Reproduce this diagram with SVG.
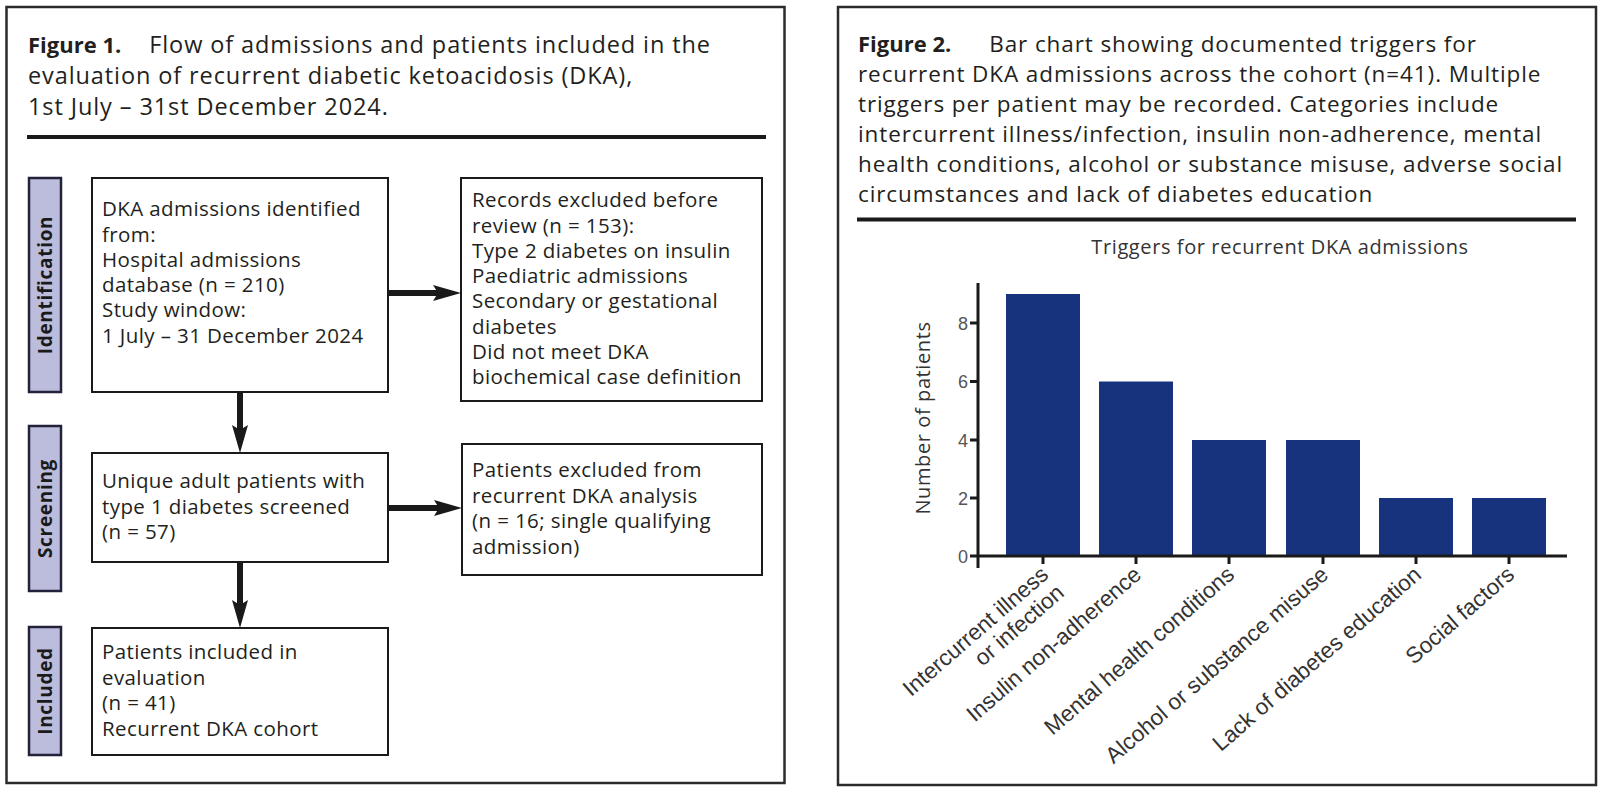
<svg xmlns="http://www.w3.org/2000/svg" width="1600" height="792" viewBox="0 0 1600 792">
<defs>
<style>
.panel{fill:#fff;stroke:#2b2b2b;stroke-width:2.5}
.rule{stroke:#1a1a1a;stroke-width:4}
.cap{font-family:"Open Sans","Liberation Sans",sans-serif;font-size:23.5px;letter-spacing:0.9px;fill:#231f20}
.cap2{font-family:"Open Sans","Liberation Sans",sans-serif;font-size:22.5px;letter-spacing:0.9px;fill:#231f20}
.capb{font-weight:bold;font-size:22px;letter-spacing:0}
.box{fill:#fff;stroke:#1a1a1a;stroke-width:2}
.bt{font-family:"Open Sans","Liberation Sans",sans-serif;font-size:20.5px;letter-spacing:0.4px;fill:#231f20}
.side{fill:#bcbcdc;stroke:#22223a;stroke-width:2.5}
.st{font-family:"Open Sans","Liberation Sans",sans-serif;font-size:19px;font-weight:bold;fill:#1a1a1a;letter-spacing:0.7px}
.conn{stroke:#1a1a1a;stroke-width:6;fill:none}
.bar{fill:#17337d}
.axis{stroke:#1a1a1a;stroke-width:3;fill:none}
.tick{font-family:"Liberation Sans",Arial,sans-serif;font-size:18px;fill:#555}
.xl{font-family:"Liberation Sans",Arial,sans-serif;font-size:22.5px;fill:#333}
.ttl{font-family:"Open Sans","Liberation Sans",sans-serif;font-size:20px;fill:#333;letter-spacing:0.6px}
</style>
<marker id="ah" markerUnits="userSpaceOnUse" markerWidth="30" markerHeight="18" refX="5" refY="8" orient="auto" viewBox="0 0 30 18">
<path d="M0,0 L28,8 L0,16 L5,8 z" fill="#1a1a1a"/>
</marker>
</defs>
<rect width="1600" height="792" fill="#fff"/>

<!-- Left panel: Figure 1 -->
<rect class="panel" x="6.5" y="7" width="778" height="776"/>
<text class="cap" x="28" y="53"><tspan class="capb">Figure 1.</tspan><tspan dx="28">Flow of admissions and patients included in the</tspan></text>
<text class="cap" x="28" y="84">evaluation of recurrent diabetic ketoacidosis (DKA),</text>
<text class="cap" x="28" y="114.5">1st July – 31st December 2024.</text>
<line class="rule" x1="27" y1="137" x2="766" y2="137"/>

<g id="stage-identification">
<rect class="side" x="29" y="178" width="32" height="214"/>
<text class="st" transform="translate(45,285) rotate(-90)" text-anchor="middle" dominant-baseline="central">Identification</text>
</g>
<g id="stage-screening">
<rect class="side" x="29" y="426" width="32" height="165"/>
<text class="st" transform="translate(45,508.5) rotate(-90)" text-anchor="middle" dominant-baseline="central">Screening</text>
</g>
<g id="stage-included">
<rect class="side" x="29" y="627" width="32" height="128"/>
<text class="st" transform="translate(45,691) rotate(-90)" text-anchor="middle" dominant-baseline="central">Included</text>
</g>

<g id="node-identified">
<rect class="box" x="92" y="178" width="296" height="214"/>
<text class="bt" x="102" y="216">DKA admissions identified</text>
<text class="bt" x="102" y="241.5">from:</text>
<text class="bt" x="102" y="266.5">Hospital admissions</text>
<text class="bt" x="102" y="292">database (n = 210)</text>
<text class="bt" x="102" y="317">Study window:</text>
<text class="bt" x="102" y="342.5">1 July – 31 December 2024</text>
</g>
<g id="node-excluded-records">
<rect class="box" x="461" y="178" width="301" height="223"/>
<text class="bt" x="472" y="207">Records excluded before</text>
<text class="bt" x="472" y="232.5">review (n = 153):</text>
<text class="bt" x="472" y="257.5">Type 2 diabetes on insulin</text>
<text class="bt" x="472" y="283">Paediatric admissions</text>
<text class="bt" x="472" y="308">Secondary or gestational</text>
<text class="bt" x="472" y="333.5">diabetes</text>
<text class="bt" x="472" y="358.5">Did not meet DKA</text>
<text class="bt" x="472" y="384">biochemical case definition</text>
</g>
<g id="node-screened">
<rect class="box" x="92" y="453" width="296" height="109"/>
<text class="bt" x="102" y="488">Unique adult patients with</text>
<text class="bt" x="102" y="513.5">type 1 diabetes screened</text>
<text class="bt" x="102" y="539">(n = 57)</text>
</g>
<g id="node-excluded-patients">
<rect class="box" x="462" y="444" width="300" height="131"/>
<text class="bt" x="472" y="477">Patients excluded from</text>
<text class="bt" x="472" y="502.5">recurrent DKA analysis</text>
<text class="bt" x="472" y="528">(n = 16; single qualifying</text>
<text class="bt" x="472" y="553.5">admission)</text>
</g>
<g id="node-included">
<rect class="box" x="92" y="628" width="296" height="127"/>
<text class="bt" x="102" y="659">Patients included in</text>
<text class="bt" x="102" y="684.5">evaluation</text>
<text class="bt" x="102" y="710">(n = 41)</text>
<text class="bt" x="102" y="735.5">Recurrent DKA cohort</text>
</g>

<g id="connectors">
<line class="conn" x1="388" y1="293" x2="438" y2="293" marker-end="url(#ah)"/>
<line class="conn" x1="240" y1="392" x2="240" y2="430" marker-end="url(#ah)"/>
<line class="conn" x1="388" y1="508" x2="439" y2="508" marker-end="url(#ah)"/>
<line class="conn" x1="240" y1="562" x2="240" y2="605" marker-end="url(#ah)"/>
</g>

<!-- Right panel: Figure 2 -->
<rect class="panel" x="838" y="7" width="758" height="778"/>
<text class="cap2" x="858" y="52"><tspan class="capb">Figure 2.</tspan><tspan dx="38">Bar chart showing documented triggers for</tspan></text>
<text class="cap2" x="858" y="82">recurrent DKA admissions across the cohort (n=41). Multiple</text>
<text class="cap2" x="858" y="112">triggers per patient may be recorded. Categories include</text>
<text class="cap2" x="858" y="142">intercurrent illness/infection, insulin non-adherence, mental</text>
<text class="cap2" x="858" y="171.5">health conditions, alcohol or substance misuse, adverse social</text>
<text class="cap2" x="858" y="201.5">circumstances and lack of diabetes education</text>
<line class="rule" x1="857" y1="219.5" x2="1576" y2="219.5"/>

<g id="chart">
<text class="ttl" x="1280" y="254" text-anchor="middle">Triggers for recurrent DKA admissions</text>
<text class="ttl" transform="translate(922,418) rotate(-90)" text-anchor="middle" dominant-baseline="central">Number of patients</text>
<rect class="bar" x="1006" y="294" width="74" height="262"/>
<rect class="bar" x="1099" y="381.5" width="74" height="174.5"/>
<rect class="bar" x="1192" y="440" width="74" height="116"/>
<rect class="bar" x="1286" y="440" width="74" height="116"/>
<rect class="bar" x="1379" y="498" width="74" height="58"/>
<rect class="bar" x="1472" y="498" width="74" height="58"/>
<path class="axis" d="M978,283 V568 M970,556 H1567 M970,323 H978 M970,381.5 H978 M970,440 H978 M970,498 H978 M1043,556 v8 M1136,556 v8 M1229,556 v8 M1323,556 v8 M1416,556 v8 M1509,556 v8"/>
<text class="tick" x="968" y="329.5" text-anchor="end">8</text>
<text class="tick" x="968" y="388" text-anchor="end">6</text>
<text class="tick" x="968" y="446.5" text-anchor="end">4</text>
<text class="tick" x="968" y="504.5" text-anchor="end">2</text>
<text class="tick" x="968" y="562.5" text-anchor="end">0</text>
<g class="xl" text-anchor="end">
<text transform="translate(1043,572) rotate(-41)"><tspan x="2" y="8">Intercurrent illness</tspan><tspan x="2" y="32">or infection</tspan></text>
<text transform="translate(1136,572) rotate(-41)" x="2" y="8">Insulin non-adherence</text>
<text transform="translate(1229,572) rotate(-41)" x="2" y="8">Mental health conditions</text>
<text transform="translate(1323,572) rotate(-41)" x="2" y="8">Alcohol or substance misuse</text>
<text transform="translate(1416,572) rotate(-41)" x="2" y="8">Lack of diabetes education</text>
<text transform="translate(1509,572) rotate(-41)" x="2" y="8">Social factors</text>
</g>
</g>
</svg>
